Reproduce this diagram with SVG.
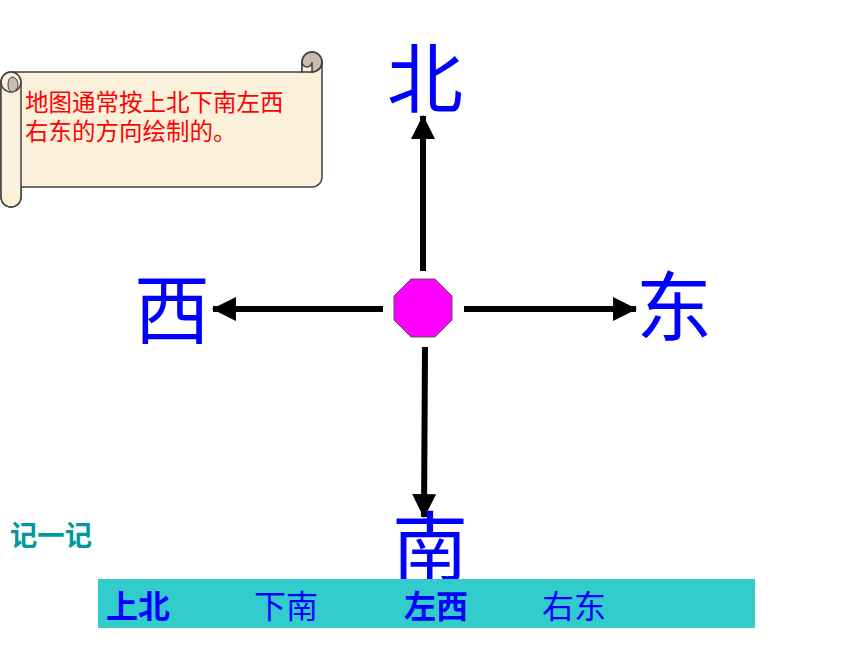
<svg xmlns="http://www.w3.org/2000/svg" width="860" height="645" viewBox="0 0 860 645">
<style>
.dir{font-family:"Noto Sans CJK SC","Noto Sans CJK JP",sans-serif;font-size:76px;fill:#0000FF;text-anchor:middle}
.note{font-family:"Noto Sans CJK SC",sans-serif;font-size:23.5px;fill:#FF0000}
.bar{font-family:"Noto Sans CJK SC",sans-serif;font-size:32px;fill:#0000FF}
.b{font-weight:bold}
.conn{stroke:#000;stroke-width:6;fill:none}
.roll{stroke:#404040;stroke-width:1.5}
</style>
<defs>
<marker id="ah" markerUnits="userSpaceOnUse" markerWidth="24" markerHeight="24" viewBox="0 0 22 22" refX="21" refY="11" orient="auto">
<path d="M0,0 L22,11 L0,22 Z" fill="#000"/>
</marker>
</defs>
<rect width="860" height="645" fill="#fff"/>

<g id="scroll">
<path class="roll" fill="#FBF0DA" d="M1,82 A10,10 0 0 1 11,72 L302,72 L302,62 A10,10 0 0 1 322,62 L322,177 A10,10 0 0 1 312,187 L21,187 L21,197 A10,10 0 0 1 1,197 Z"/>
<circle class="roll" cx="312" cy="62" r="10" fill="#C8BDAC"/>
<path class="roll" fill="#FBF0DA" d="M302,72 L302,62 A5,5 0 0 0 312,62 L312,72 Z"/>
<path class="roll" fill="none" d="M312,72 A10,10 0 0 0 322,62"/>
<path class="roll" fill="#FBF0DA" d="M1,82 L1,197 A10,10 0 0 0 21,197 L21,82 Z"/>
<circle class="roll" cx="11" cy="82" r="10" fill="#FBF0DA"/>
<path fill="#C8BDAC" stroke="#404040" stroke-width="1" d="M12,77 A6,7.5 0 0 1 12,92 A4,7.5 0 0 1 12,77 Z"/>
<text class="note" x="25" y="111">地图通常按上北下南左西</text>
<text class="note" x="25" y="140">右东的方向绘制的。</text>
</g>

<g id="connectors">
<line class="conn" x1="423" y1="271" x2="423" y2="116" marker-end="url(#ah)"/>
<line class="conn" x1="383" y1="309" x2="213" y2="309" marker-end="url(#ah)"/>
<line class="conn" x1="464" y1="309" x2="636" y2="309" marker-end="url(#ah)"/>
<line class="conn" x1="425" y1="347" x2="424" y2="517" marker-end="url(#ah)"/>
</g>

<g id="center">
<polygon points="411,279 435,279 452,296 452,320 435,337 411,337 394,320 394,296" fill="#FF00FF" stroke="#555" stroke-width="1"/>
</g>

<g id="north"><text class="dir" x="425" y="107">北</text></g>
<g id="west"><text class="dir" x="172" y="338">西</text></g>
<g id="east"><text class="dir" x="674" y="335">东</text></g>
<g id="south"><text class="dir" x="430" y="575">南</text></g>

<g id="remember">
<text x="10" y="546" font-family="Noto Sans CJK SC,sans-serif" font-size="28" font-weight="bold" fill="#009999" textLength="82" lengthAdjust="spacingAndGlyphs">记一记</text>
</g>

<g id="summary">
<rect x="98" y="579" width="657" height="49" fill="#33CCCC"/>
<text class="bar b" x="106" y="618">上北</text>
<text class="bar" x="254" y="618">下南</text>
<text class="bar b" x="404" y="618">左西</text>
<text class="bar" x="542" y="618">右东</text>
</g>
</svg>
